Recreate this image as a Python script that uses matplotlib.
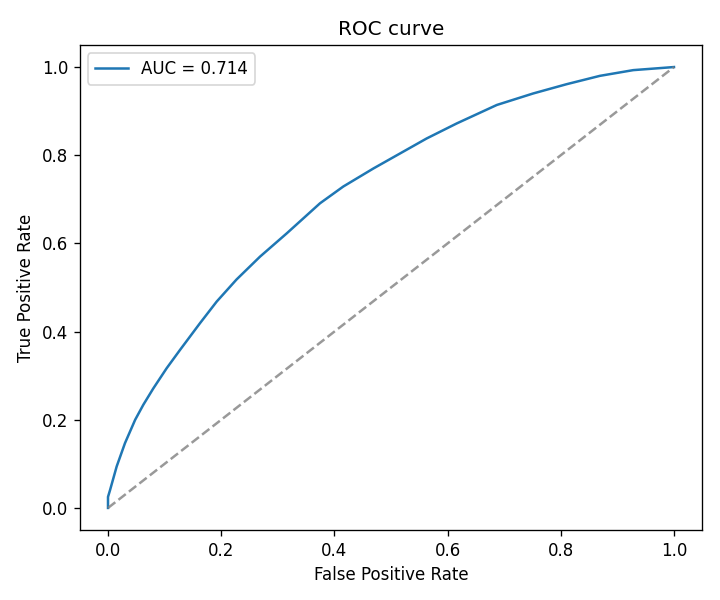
import matplotlib
matplotlib.use("Agg")
import matplotlib.pyplot as plt

# points
fpr = [0.0, 0.0, 0.0035, 0.0153, 0.030, 0.048, 0.0624, 0.080, 0.1037, 0.127,
       0.1625, 0.192, 0.227, 0.2686, 0.316, 0.3746, 0.4157, 0.469, 0.516,
       0.563, 0.616, 0.687, 0.751, 0.810, 0.869, 0.928, 1.0]
tpr = [0.0, 0.025, 0.040, 0.094, 0.147, 0.200, 0.234, 0.271, 0.317, 0.358,
       0.419, 0.468, 0.518, 0.570, 0.623, 0.691, 0.729, 0.770, 0.804,
       0.838, 0.872, 0.914, 0.940, 0.961, 0.980, 0.993, 1.0]
auc = 0.714

fig, ax = plt.subplots(figsize=(6, 5), dpi=120)
ax.plot(fpr, tpr, label="AUC = %.3f" % auc)
ax.plot([0, 1], [0, 1], linestyle="--", color="gray", alpha=0.8)
ax.set_xlabel("False Positive Rate")
ax.set_ylabel("True Positive Rate")
ax.set_title("ROC curve")
ax.legend(loc="upper left")
fig.subplots_adjust(left=0.1107, right=0.9754, bottom=0.1167, top=0.925)
plt.savefig("out.png")
